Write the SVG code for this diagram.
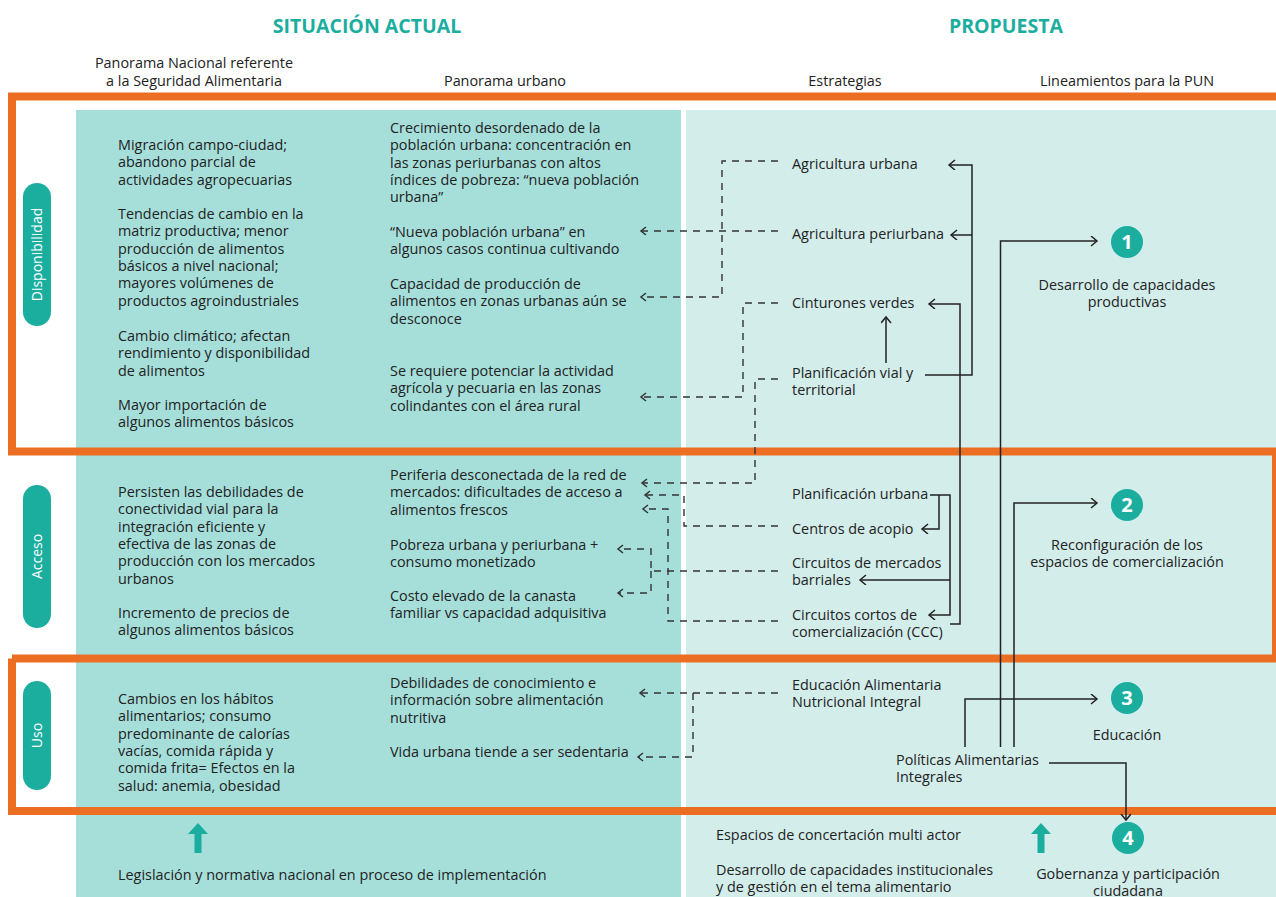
<svg xmlns="http://www.w3.org/2000/svg" width="1276" height="897" viewBox="0 0 1276 897">
<style>
.t{font-family:"Open Sans","Noto Sans","Liberation Sans",sans-serif;font-size:14.4px;fill:#222;}
.c{text-anchor:middle;}
.h{font-family:"Open Sans","Noto Sans","Liberation Sans",sans-serif;font-size:19.5px;font-weight:bold;fill:#1BAE9F;text-anchor:middle;}
.pill{fill:#1BAE9F;}
.pt{font-family:"Open Sans","Noto Sans","Liberation Sans",sans-serif;font-size:14px;fill:#fff;text-anchor:middle;}
.num{font-family:"Open Sans","Noto Sans","Liberation Sans",sans-serif;font-size:20px;font-weight:bold;fill:#fff;text-anchor:middle;}
.frame{fill:none;stroke:#EC6E23;stroke-width:8;}
.s{fill:none;stroke:#222;stroke-width:1.5;marker-end:url(#as);}
.d{fill:none;stroke:#333;stroke-width:1.4;stroke-dasharray:7 6;marker-end:url(#ad);}
.g{fill:#1BAE9F;}
</style>
<defs>
<marker id="as" markerUnits="userSpaceOnUse" markerWidth="10" markerHeight="12" refX="7" refY="5" orient="auto">
<path d="M1,0 L7,5 L1,10" fill="none" stroke="#222" stroke-width="1.5"/>
</marker>
<marker id="ad" markerUnits="userSpaceOnUse" markerWidth="10" markerHeight="12" refX="6" refY="4.5" orient="auto">
<path d="M1,0.5 L6,4.5 L1,8.5" fill="none" stroke="#333" stroke-width="1.5"/>
</marker>
</defs>
<rect width="1276" height="897" fill="#fff"/>
<rect x="76" y="110" width="605" height="787" fill="#A6DFDA"/>
<rect x="686" y="110" width="590" height="787" fill="#D3EDEB"/>

<g id="frames">
<path class="frame" d="M1284,96.5 H12 V451.5 H1284"/>
<path class="frame" d="M12,658.5 H1276 V451.5"/>
<path class="frame" d="M12,658.5 V811 H1284"/>
</g>

<g id="headers">
<text class="h" x="367" y="33">SITUACIÓN ACTUAL</text>
<text class="h" x="1006" y="33">PROPUESTA</text>
<text class="t c" x="194" y="68"><tspan x="194">Panorama Nacional referente</tspan><tspan x="194" dy="18">a la Seguridad Alimentaria</tspan></text>
<text class="t c" x="505" y="86">Panorama urbano</text>
<text class="t c" x="845" y="86">Estrategias</text>
<text class="t c" x="1127" y="86">Lineamientos para la PUN</text>
</g>

<g id="pill-disponibilidad">
<rect class="pill" x="23" y="183" width="28" height="143" rx="14"/>
<text class="pt" transform="translate(42,254.5) rotate(-90)">Disponibilidad</text>
</g>
<g id="pill-acceso">
<rect class="pill" x="23" y="485" width="28" height="143" rx="14"/>
<text class="pt" transform="translate(42,556.5) rotate(-90)">Acceso</text>
</g>
<g id="pill-uso">
<rect class="pill" x="23" y="681" width="28" height="109" rx="14"/>
<text class="pt" transform="translate(42,735.5) rotate(-90)">Uso</text>
</g>

<g id="nacional-disponibilidad">
<text class="t" x="118" y="150"><tspan x="118">Migración campo-ciudad;</tspan><tspan x="118" dy="17.3">abandono parcial de</tspan><tspan x="118" dy="17.3">actividades agropecuarias</tspan></text>
<text class="t" x="118" y="219"><tspan x="118">Tendencias de cambio en la</tspan><tspan x="118" dy="17.3">matriz productiva; menor</tspan><tspan x="118" dy="17.3">producción de alimentos</tspan><tspan x="118" dy="17.3">básicos a nivel nacional;</tspan><tspan x="118" dy="17.3">mayores volúmenes de</tspan><tspan x="118" dy="17.3">productos agroindustriales</tspan></text>
<text class="t" x="118" y="341"><tspan x="118">Cambio climático; afectan</tspan><tspan x="118" dy="17.3">rendimiento y disponibilidad</tspan><tspan x="118" dy="17.3">de alimentos</tspan></text>
<text class="t" x="118" y="410"><tspan x="118">Mayor importación de</tspan><tspan x="118" dy="17.3">algunos alimentos básicos</tspan></text>
</g>

<g id="urbano-disponibilidad">
<text class="t" x="390" y="133"><tspan x="390">Crecimiento desordenado de la</tspan><tspan x="390" dy="17.3">población urbana: concentración en</tspan><tspan x="390" dy="17.3">las zonas periurbanas con altos</tspan><tspan x="390" dy="17.3">índices de pobreza: “nueva población</tspan><tspan x="390" dy="17.3">urbana”</tspan></text>
<text class="t" x="390" y="237"><tspan x="390">“Nueva población urbana” en</tspan><tspan x="390" dy="17.3">algunos casos continua cultivando</tspan></text>
<text class="t" x="390" y="289"><tspan x="390">Capacidad de producción de</tspan><tspan x="390" dy="17.3">alimentos en zonas urbanas aún se</tspan><tspan x="390" dy="17.3">desconoce</tspan></text>
<text class="t" x="390" y="376"><tspan x="390">Se requiere potenciar la actividad</tspan><tspan x="390" dy="17.3">agrícola y pecuaria en las zonas</tspan><tspan x="390" dy="17.3">colindantes con el área rural</tspan></text>
</g>

<g id="nacional-acceso">
<text class="t" x="118" y="497"><tspan x="118">Persisten las debilidades de</tspan><tspan x="118" dy="17.3">conectividad vial para la</tspan><tspan x="118" dy="17.3">integración eficiente y</tspan><tspan x="118" dy="17.3">efectiva de las zonas de</tspan><tspan x="118" dy="17.3">producción con los mercados</tspan><tspan x="118" dy="17.3">urbanos</tspan></text>
<text class="t" x="118" y="618"><tspan x="118">Incremento de precios de</tspan><tspan x="118" dy="17.3">algunos alimentos básicos</tspan></text>
</g>

<g id="urbano-acceso">
<text class="t" x="390" y="480"><tspan x="390">Periferia desconectada de la red de</tspan><tspan x="390" dy="17.3">mercados: dificultades de acceso a</tspan><tspan x="390" dy="17.3">alimentos frescos</tspan></text>
<text class="t" x="390" y="550"><tspan x="390">Pobreza urbana y periurbana +</tspan><tspan x="390" dy="17.3">consumo monetizado</tspan></text>
<text class="t" x="390" y="601"><tspan x="390">Costo elevado de la canasta</tspan><tspan x="390" dy="17.3">familiar vs capacidad adquisitiva</tspan></text>
</g>

<g id="nacional-uso">
<text class="t" x="118" y="704"><tspan x="118">Cambios en los hábitos</tspan><tspan x="118" dy="17.3">alimentarios; consumo</tspan><tspan x="118" dy="17.3">predominante de calorías</tspan><tspan x="118" dy="17.3">vacías, comida rápida y</tspan><tspan x="118" dy="17.3">comida frita= Efectos en la</tspan><tspan x="118" dy="17.3">salud: anemia, obesidad</tspan></text>
</g>

<g id="urbano-uso">
<text class="t" x="390" y="688"><tspan x="390">Debilidades de conocimiento e</tspan><tspan x="390" dy="17.3">información sobre alimentación</tspan><tspan x="390" dy="17.3">nutritiva</tspan></text>
<text class="t" x="390" y="757">Vida urbana tiende a ser sedentaria</text>
</g>

<g id="legislacion">
<polygon class="g" points="198,823 208,834 201.5,834 201.5,853 194.5,853 194.5,834 188,834"/>
<text class="t" x="118" y="880">Legislación y normativa nacional en proceso de implementación</text>
</g>

<g id="estrategias">
<text id="s-agri-urbana" class="t" x="792" y="169">Agricultura urbana</text>
<text id="s-agri-periurbana" class="t" x="792" y="239">Agricultura periurbana</text>
<text id="s-cinturones" class="t" x="792" y="308">Cinturones verdes</text>
<text id="s-plan-vial" class="t" x="792" y="378"><tspan x="792">Planificación vial y</tspan><tspan x="792" dy="17.3">territorial</tspan></text>
<text id="s-plan-urbana" class="t" x="792" y="499">Planificación urbana</text>
<text id="s-acopio" class="t" x="792" y="534">Centros de acopio</text>
<text id="s-mercados" class="t" x="792" y="568"><tspan x="792">Circuitos de mercados</tspan><tspan x="792" dy="17.3">barriales</tspan></text>
<text id="s-ccc" class="t" x="792" y="620"><tspan x="792">Circuitos cortos de</tspan><tspan x="792" dy="17.3">comercialización (CCC)</tspan></text>
<text id="s-educacion" class="t" x="792" y="690"><tspan x="792">Educación Alimentaria</tspan><tspan x="792" dy="17.3">Nutricional Integral</tspan></text>
<text id="s-politicas" class="t" x="896" y="765"><tspan x="896">Políticas Alimentarias</tspan><tspan x="896" dy="17.3">Integrales</tspan></text>
</g>

<g id="gobernanza-left">
<text class="t" x="716" y="840">Espacios de concertación multi actor</text>
<text class="t" x="716" y="875"><tspan x="716">Desarrollo de capacidades institucionales</tspan><tspan x="716" dy="17.3">y de gestión en el tema alimentario</tspan></text>
<polygon class="g" points="1041,823 1051,834 1044.5,834 1044.5,853 1037.5,853 1037.5,834 1031,834"/>
</g>

<g id="lineamiento-1">
<circle class="pill" cx="1127" cy="242" r="16"/>
<text class="num" x="1127" y="249">1</text>
<text class="t c" x="1127" y="290"><tspan x="1127">Desarrollo de capacidades</tspan><tspan x="1127" dy="17.3">productivas</tspan></text>
</g>
<g id="lineamiento-2">
<circle class="pill" cx="1127" cy="505" r="16"/>
<text class="num" x="1127" y="512">2</text>
<text class="t c" x="1127" y="550"><tspan x="1127">Reconfiguración de los</tspan><tspan x="1127" dy="17.3">espacios de comercialización</tspan></text>
</g>
<g id="lineamiento-3">
<circle class="pill" cx="1127" cy="698" r="16"/>
<text class="num" x="1127" y="705">3</text>
<text class="t c" x="1127" y="740">Educación</text>
</g>
<g id="lineamiento-4">
<circle class="pill" cx="1128" cy="838" r="16"/>
<text class="num" x="1128" y="845">4</text>
<text class="t c" x="1128" y="879"><tspan x="1128">Gobernanza y participación</tspan><tspan x="1128" dy="16.5">ciudadana</tspan></text>
</g>

<g id="connectors">
<path class="s" d="M925,375 H972 V165 H949"/>
<path class="s" d="M972,235 H951"/>
<path class="s" d="M886,363 V317"/>
<path class="s" d="M950,624 H960 V304 H929"/>
<path class="s" d="M930,495 H950 V615 H929"/>
<path class="s" d="M950,580 H860"/>
<path class="s" d="M939,495 V529 H922"/>
<path class="s" d="M965,747 V699 H1097"/>
<path class="s" d="M1000.5,747 V241 H1097"/>
<path class="s" d="M1014,747 V503 H1097"/>
<path class="s" d="M1049,763 H1126 V820"/>
<path class="d" d="M778,161 H722 V297 H641"/>
<path class="d" d="M778,231 H641"/>
<path class="d" d="M778,303 H743 V397 H641"/>
<path class="d" d="M778,379 H755 V483 H642"/>
<path class="d" d="M778,526 H684 V495 H645"/>
<path class="d" d="M778,621 H668 V509 H643"/>
<path class="d" d="M778,571 H651 V549 H618"/>
<path class="d" d="M651,571 V593 H618"/>
<path class="d" d="M778,693 H640"/>
<path class="d" d="M693,693 V757 H638"/>
</g>
</svg>
